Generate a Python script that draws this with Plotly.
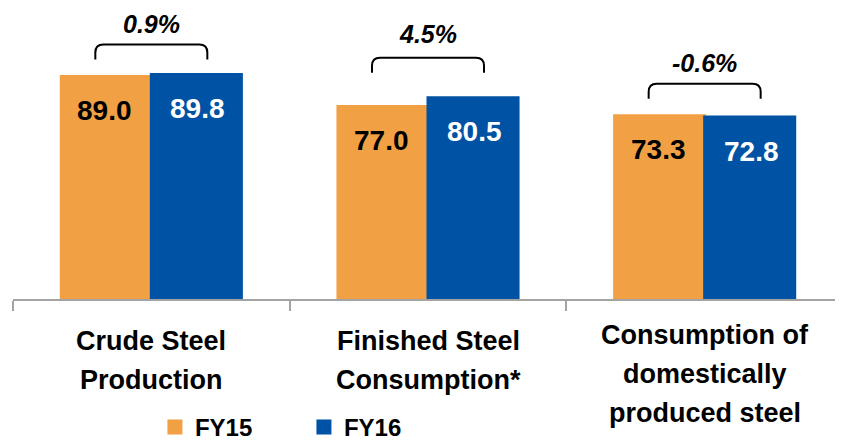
import plotly.graph_objects as go

# ---- data ----
categories = ["Crude Steel Production", "Finished Steel Consumption*",
              "Consumption of domestically produced steel"]
category_lines = [["Crude Steel", "Production"],
                  ["Finished Steel", "Consumption*"],
                  ["Consumption of", "domestically", "produced steel"]]
series_names = ["FY15", "FY16"]
fy15 = [89.0, 77.0, 73.3]
fy16 = [89.8, 80.5, 72.8]
pct_labels = ["0.9%", "4.5%", "-0.6%"]

# ---- style ----
ORANGE = "#F2A044"
BLUE = "#0052A4"
AXIS_GREY = "#A3A3A3"
FONT = "Liberation Sans, Arial, sans-serif"
bracket_gap_px = [15, 25, 17]
pct_gap_px = [21, 24, 21]
BRACKET_H = 15
BRACKET_HALF = 56
RADIUS = 8
BAR_HALF_OFFSET = 46.5
first_line_px = {2: 42, 3: 36}
LINE_STEP = 39

fig = go.Figure()
fig.add_trace(go.Bar(x=categories, y=fy15, name=series_names[0],
                     marker=dict(color=ORANGE, line=dict(width=3, color=ORANGE))))
fig.add_trace(go.Bar(x=categories, y=fy16, name=series_names[1],
                     marker=dict(color=BLUE, line=dict(width=3, color=BLUE))))

annotations = []
shapes = []
for i, cat in enumerate(categories):
    # value labels inside bars
    annotations.append(dict(x=cat, y=fy15[i], xref="x", yref="y", text=f"{fy15[i]:.1f}",
                            showarrow=False, xshift=-BAR_HALF_OFFSET, yshift=-34,
                            yanchor="middle",
                            font=dict(family=FONT, size=28, color="black", weight="bold")))
    annotations.append(dict(x=cat, y=fy16[i], xref="x", yref="y", text=f"{fy16[i]:.1f}",
                            showarrow=False, xshift=BAR_HALF_OFFSET, yshift=-34,
                            yanchor="middle",
                            font=dict(family=FONT, size=28, color="white", weight="bold")))
    top = max(fy15[i], fy16[i])
    g = bracket_gap_px[i]
    t = g + BRACKET_H
    h = BRACKET_HALF
    r = RADIUS
    path = (f"M {-h},{g} L {-h},{t - r} Q {-h},{t} {-h + r},{t} "
            f"L {h - r},{t} Q {h},{t} {h},{t - r} L {h},{g}")
    shapes.append(dict(type="path", xref="x", yref="y", xsizemode="pixel", ysizemode="pixel",
                       xanchor=cat, yanchor=top, path=path,
                       line=dict(color="black", width=2)))
    annotations.append(dict(x=cat, y=top, xref="x", yref="y", text=pct_labels[i],
                            showarrow=False, yshift=t + pct_gap_px[i], yanchor="middle",
                            font=dict(family=FONT, size=25, color="black",
                                      weight="bold", style="italic")))
    # category labels (one annotation per line)
    lines = category_lines[i]
    off = first_line_px[len(lines)]
    for k, line in enumerate(lines):
        annotations.append(dict(x=cat, y=0, xref="x", yref="y", text=line,
                                showarrow=False, yshift=-(off + k * LINE_STEP),
                                yanchor="middle",
                                font=dict(family=FONT, size=27, color="black", weight="bold")))

fig.update_layout(
    width=835, height=435,
    margin=dict(l=5, r=0, t=0, b=144, autoexpand=False),
    paper_bgcolor="white", plot_bgcolor="white",
    barmode="group", bargap=0.349, bargroupgap=0,
    showlegend=True,
    legend=dict(orientation="h", x=0.171, xanchor="left", y=-0.441, yanchor="middle",
                font=dict(family=FONT, size=24, color="black", weight="bold"),
                itemwidth=30, entrywidth=104, entrywidthmode="pixels",
                bgcolor="rgba(0,0,0,0)", traceorder="normal"),
    xaxis=dict(showticklabels=False, showline=True, linecolor=AXIS_GREY, linewidth=1.5,
               ticks="outside", tickson="boundaries", ticklen=10, tickwidth=1.5,
               tickcolor=AXIS_GREY, showgrid=False, zeroline=False, fixedrange=True,
               layer="above traces"),
    yaxis=dict(visible=False, range=[0, 116.4], showgrid=False, zeroline=False),
    annotations=annotations,
    shapes=shapes,
)

fig.write_html("out.html")
